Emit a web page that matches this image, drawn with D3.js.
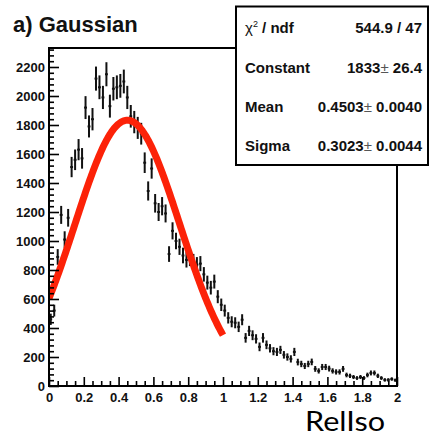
<!DOCTYPE html>
<html>
<head>
<meta charset="utf-8">
<script src="https://cdn.jsdelivr.net/npm/d3@7"></script>
<style>
  html, body { margin: 0; padding: 0; background: #fff; }
  svg { display: block; }
  text { font-family: "Liberation Sans", Arial, sans-serif; }
</style>
</head>
<body>
<svg id="chart" width="430" height="436"></svg>
<script>
// RelIso histogram: 100 bins of width 0.02 on [0, 2]
const binLow = 0, binWidth = 0.02;
const counts = [
  460, 520, 890, 1180, 1010, 1160, 1510, 1560, 1630, 1570,
  1920, 1790, 1840, 2120, 2060, 1990, 2150, 1930, 2050, 2060,
  2070, 2100, 1990, 1860, 1820, 1780, 1740, 1540, 1345, 1500,
  1260, 1200, 1240, 1190, 910, 1070, 1000, 960, 900, 870,
  880, 858, 837, 844, 770, 713, 678, 720, 616, 560,
  520, 470, 443, 436, 408, 457, 332, 380, 350, 325,
  270, 332, 284, 260, 240, 235, 249, 215, 200, 187,
  235, 165, 152, 138, 152, 166, 118, 104, 131, 131,
  120, 104, 97, 97, 118, 76, 70, 62, 55, 62,
  55, 76, 90, 90, 70, 55, 42, 42, 48, 40
];
const errors = [
  39, 41, 54, 62, 57, 61, 70, 71, 73, 71,
  79, 76, 77, 83, 82, 80, 83, 79, 81, 82,
  82, 82, 80, 78, 77, 76, 75, 71, 66, 70,
  64, 62, 63, 62, 54, 59, 57, 56, 54, 53,
  53, 53, 52, 52, 50, 48, 47, 48, 45, 43,
  41, 39, 38, 38, 36, 38, 33, 35, 34, 32,
  30, 33, 30, 29, 28, 28, 28, 26, 25, 25,
  28, 23, 22, 21, 22, 23, 20, 18, 21, 21,
  20, 18, 18, 18, 20, 16, 15, 14, 13, 14,
  13, 16, 17, 17, 15, 13, 12, 12, 12, 11
];

// Gaussian fit result, fitted on [0, 1]
const fitConstant = 1833, fitMean = 0.4503, fitSigma = 0.3023;
const fitRange = [0, 1];

// Fit statistics box rows: [label, value, error]
const statLabels = ["Constant", "Mean", "Sigma"];
const statValues = ["1833", "0.4503", "0.3023"];
const statErrors = ["26.4", "0.0040", "0.0044"];
const chi2Text = "544.9 / 47";

// Axis ticks
const xTickValues = [0, 0.2, 0.4, 0.6, 0.8, 1, 1.2, 1.4, 1.6, 1.8, 2];
const xTickLabels = ["0", "0.2", "0.4", "0.6", "0.8", "1", "1.2", "1.4", "1.6", "1.8", "2"];
const yTickValues = [0, 200, 400, 600, 800, 1000, 1200, 1400, 1600, 1800, 2000, 2200];
const yTickLabels = ["0", "200", "400", "600", "800", "1000", "1200", "1400", "1600", "1800", "2000", "2200"];

const titleText = "a) Gaussian";
const xTitle = "RelIso";

const svg = d3.select("#chart");
const frame = { left: 49, right: 397, top: 48, bottom: 386 };

const x = d3.scaleLinear().domain([0, 2]).range([frame.left, frame.right]);
const y = d3.scaleLinear().domain([0, 2331]).range([frame.bottom, frame.top]);

svg.append("defs").append("clipPath").attr("id", "plotClip")
  .append("rect")
  .attr("x", frame.left).attr("y", frame.top)
  .attr("width", frame.right - frame.left).attr("height", frame.bottom - frame.top);

// Data points with error bars
const bins = counts.map((c, i) => ({
  lo: binLow + i * binWidth,
  hi: binLow + (i + 1) * binWidth,
  mid: binLow + (i + 0.5) * binWidth,
  v: c,
  e: errors[i]
}));

const pts = svg.append("g").attr("clip-path", "url(#plotClip)")
  .attr("stroke", "#111").attr("stroke-width", 2);
pts.selectAll("line.v").data(bins).join("line").attr("class", "v")
  .attr("x1", d => x(d.mid)).attr("x2", d => x(d.mid))
  .attr("y1", d => y(d.v - d.e)).attr("y2", d => y(d.v + d.e));
pts.selectAll("line.h").data(bins).join("line").attr("class", "h")
  .attr("x1", d => x(d.lo) + 0.3).attr("x2", d => x(d.hi) - 0.3)
  .attr("y1", d => y(d.v)).attr("y2", d => y(d.v));

// Fitted Gaussian
const gauss = t => fitConstant * Math.exp(-0.5 * Math.pow((t - fitMean) / fitSigma, 2));
const fitPts = d3.range(0, 201).map(k => fitRange[0] + (fitRange[1] - fitRange[0]) * k / 200);
svg.append("path")
  .datum(fitPts)
  .attr("clip-path", "url(#plotClip)")
  .attr("fill", "none")
  .attr("stroke", "#fc2208")
  .attr("stroke-width", 7)
  .attr("stroke-linecap", "butt")
  .attr("d", d3.line().x(t => x(t)).y(t => y(gauss(t))));

// Frame
svg.append("rect")
  .attr("x", frame.left).attr("y", frame.top)
  .attr("width", frame.right - frame.left).attr("height", frame.bottom - frame.top)
  .attr("fill", "none").attr("stroke", "#000").attr("stroke-width", 2);

// Minor ticks
const yMinor = d3.range(0, 2331, 40).filter(v => v % 200 !== 0);
const xMinor = d3.range(0, 41).map(k => k * 0.05).filter(v => Math.abs(v / 0.2 - Math.round(v / 0.2)) > 1e-6);

const yAxis = svg.append("g").attr("transform", `translate(${frame.left},0)`)
  .call(d3.axisLeft(y).tickValues(yTickValues).tickSize(-10).tickPadding(14)
    .tickFormat((d, i) => yTickLabels[i]));
const yAxisMinor = svg.append("g").attr("transform", `translate(${frame.left},0)`)
  .call(d3.axisLeft(y).tickValues(yMinor).tickSize(-5).tickFormat(""));

const xAxis = svg.append("g").attr("transform", `translate(0,${frame.bottom})`)
  .call(d3.axisBottom(x).tickValues(xTickValues).tickSize(-9).tickPadding(7)
    .tickFormat((d, i) => xTickLabels[i]));
const xAxisMinor = svg.append("g").attr("transform", `translate(0,${frame.bottom})`)
  .call(d3.axisBottom(x).tickValues(xMinor).tickSize(-5).tickFormat(""));

[yAxis, yAxisMinor, xAxis, xAxisMinor].forEach(g => {
  g.select(".domain").remove();
  g.selectAll(".tick line").attr("stroke", "#000").attr("stroke-width", 1.6);
});
[yAxis, xAxis].forEach(g => {
  g.selectAll(".tick text")
    .attr("fill", "#111")
    .style("font-family", "'Liberation Sans', Arial, sans-serif")
    .style("font-weight", "bold")
    .style("font-size", "13px");
});
yAxis.selectAll(".tick text").attr("dx", "10px").attr("dy", "0.36em");
xAxis.selectAll(".tick text").attr("dy", "0.71em");

// Title
svg.append("text")
  .attr("x", 13).attr("y", 32)
  .attr("fill", "#111")
  .style("font-weight", "bold").style("font-size", "22px")
  .text(titleText);

// Statistics box
const box = { x: 236, y: 6.5, w: 192, h: 158.5 };
svg.append("rect")
  .attr("x", box.x).attr("y", box.y).attr("width", box.w).attr("height", box.h)
  .attr("fill", "#fff").attr("stroke", "#000").attr("stroke-width", 2);

const rowY = [33, 73, 112, 151];
const labelX = 245, valueX = 422;
const statFont = "15px";

const chiLabel = svg.append("text")
  .attr("x", labelX).attr("y", rowY[0]).attr("fill", "#111")
  .style("font-size", statFont);
chiLabel.append("tspan").style("font-weight", "normal").text("χ");
chiLabel.append("tspan").attr("dy", -6).style("font-size", "9px").text("2");
chiLabel.append("tspan").attr("dy", 6).style("font-weight", "bold").text(" / ndf");

svg.append("text")
  .attr("x", valueX).attr("y", rowY[0]).attr("text-anchor", "end").attr("fill", "#111")
  .style("font-size", statFont).style("font-weight", "bold")
  .text(chi2Text);

statLabels.forEach((lab, i) => {
  svg.append("text")
    .attr("x", labelX).attr("y", rowY[i + 1]).attr("fill", "#111")
    .style("font-size", statFont).style("font-weight", "bold")
    .text(lab);
  const t = svg.append("text")
    .attr("x", valueX).attr("y", rowY[i + 1]).attr("text-anchor", "end").attr("fill", "#111")
    .style("font-size", statFont).style("font-weight", "bold");
  t.append("tspan").text(statValues[i]);
  t.append("tspan").style("font-weight", "normal").attr("fill", "#555").text("±");
  t.append("tspan").text(" " + statErrors[i]);
});

// X-axis title
svg.append("text")
  .attr("x", 305).attr("y", 430.5)
  .attr("fill", "#000")
  .attr("textLength", 80).attr("lengthAdjust", "spacingAndGlyphs")
  .style("font-family", "Lato, 'Open Sans', sans-serif")
  .style("font-size", "26px")
  .text(xTitle);
</script>
</body>
</html>
